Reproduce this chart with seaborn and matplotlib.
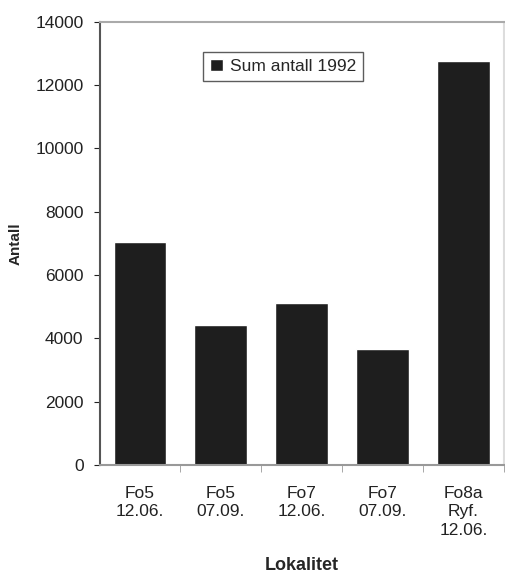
import numpy as np
import pandas as pd
import matplotlib
matplotlib.use("Agg")
import matplotlib.pyplot as plt
import seaborn as sns

lokaliteter = ["Fo5\n12.06.", "Fo5\n07.09.", "Fo7\n12.06.", "Fo7\n07.09.", "Fo8a\nRyf.\n12.06."]
antall = [7050, 4420, 5120, 3670, 12750]
serie = "Sum antall 1992"

df = pd.DataFrame({"Lokalitet": lokaliteter, "Antall": antall})

sns.set_style("white")
plt.rcParams["font.family"] = ["Liberation Sans", "DejaVu Sans"]

fig = plt.figure(figsize=(5.06, 5.76), dpi=100)
ax = fig.add_axes([0.198, 0.193, 0.798, 0.769])

sns.barplot(data=df, x="Lokalitet", y="Antall", color="#1e1e1e",
            saturation=1, width=0.65, label=serie, ax=ax)

ax.set_ylim(0, 14000)
ax.set_xlim(-0.49, 4.44)
ax.set_yticks(np.arange(0, 14001, 2000))
ax.set_xticks(np.arange(len(lokaliteter)))
ax.set_xticks(np.arange(len(lokaliteter)) + 0.5, minor=True)
ax.tick_params(axis="y", labelsize=12.5, length=4, pad=8, direction="out", left=True, colors="#222222")
ax.tick_params(axis="x", which="major", labelsize=12.5, length=0, pad=15, colors="#222222")
ax.tick_params(axis="x", which="minor", length=5, bottom=True, color="#999999")
for lab in ax.get_xticklabels():
    lab.set_linespacing(1.3)

for side, col in [("left", "#555555"), ("bottom", "#999999"), ("top", "#aaaaaa"), ("right", "#dddddd")]:
    ax.spines[side].set_visible(True)
    ax.spines[side].set_color(col)
    ax.spines[side].set_linewidth(1.5)

ax.set_ylabel("Antall", fontsize=11, fontweight="bold", labelpad=9)
ax.set_xlabel("Lokalitet", fontsize=13, fontweight="bold", labelpad=14)

leg = ax.legend(loc="upper center", bbox_to_anchor=(0.453, 0.933), fontsize=12.5,
                frameon=True, fancybox=False, edgecolor="#333333",
                handlelength=0.7, handleheight=0.7, handletextpad=0.4,
                borderpad=0.4, borderaxespad=0)
leg.get_frame().set_linewidth(1.0)

fig.savefig("out.png", dpi=100)
